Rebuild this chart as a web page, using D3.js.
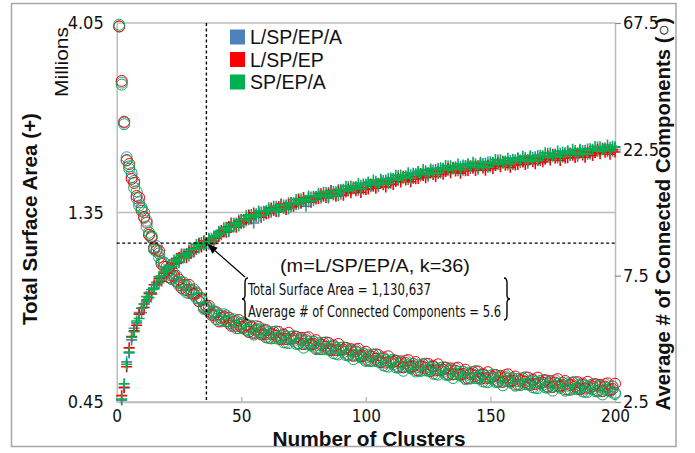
<!DOCTYPE html>
<html><head><meta charset="utf-8">
<script src="https://cdn.jsdelivr.net/npm/d3@7"></script>
<style>
html,body{margin:0;padding:0;background:#fff;}
svg{display:block;}
</style></head><body>
<svg id="chart" width="695" height="453"></svg>
<script>
// ---- data ----
const seriesNames = ["L/SP/EP/A", "L/SP/EP", "SP/EP/A"];
const seriesColors = ["#4F81BD", "#FF0000", "#00B050"];
const clusterTicks = [0, 50, 100, 150, 200];
const areaTicks = [0.45, 1.35, 4.05];          // millions
const componentTicks = [2.5, 7.5, 22.5, 67.5];
const componentsFirstK = 1;
const areaFirstK = 2;

// average # of connected components, k = 1..200
const componentsLSPEPA = [65.5,40.2,28.4,21.0,19.0,17.7,17.1,14.7,14.2,13.6,
12.4,12.1,10.7,10.4,9.6,9.7,8.8,8.5,8.4,7.7,
7.85,7.28,7.42,7.49,6.91,6.88,7.06,6.48,6.65,6.63,
6.34,6.49,6.01,6.06,5.73,5.6,5.49,5.45,5.46,5.14,
5.36,5.04,5.2,5.3,4.95,4.95,5.13,4.75,4.9,4.95,
4.75,4.91,4.6,4.76,4.59,4.84,4.57,4.59,4.65,4.39,
4.59,4.35,4.5,4.62,4.33,4.36,4.51,4.19,4.34,4.41,
4.26,4.41,4.13,4.28,4.14,4.37,4.14,4.16,4.22,4.0,
4.18,3.96,4.1,4.2,3.94,3.96,4.1,3.8,3.94,4.0,
3.86,4.0,3.74,3.88,3.74,3.95,3.74,3.76,3.81,3.61,
3.77,3.57,3.7,3.79,3.55,3.56,3.69,3.42,3.54,3.59,
3.47,3.58,3.37,3.49,3.38,3.58,3.4,3.42,3.48,3.3,
3.46,3.28,3.4,3.49,3.28,3.31,3.43,3.19,3.3,3.36,
3.25,3.37,3.16,3.28,3.18,3.35,3.18,3.2,3.25,3.08,
3.23,3.07,3.18,3.27,3.07,3.09,3.2,2.98,3.09,3.14,
3.05,3.16,2.97,3.08,2.98,3.16,3.0,3.02,3.07,2.91,
3.06,2.9,3.01,3.1,2.91,2.93,3.05,2.83,2.94,3.0,
2.9,3.02,2.83,2.94,2.85,3.02,2.87,2.89,2.95,2.79,
2.94,2.78,2.9,2.97,2.8,2.82,2.94,2.73,2.84,2.89,
2.8,2.91,2.74,2.85,2.75,2.92,2.77,2.8,2.86,2.71];

const componentsLSPEP = [65.5,40.8,28.6,20.5,19.8,17.4,16.8,15.0,14.8,13.2,
12.5,11.9,10.7,10.5,9.5,9.4,9.3,8.3,8.1,8.1,
7.39,7.5,7.5,7.13,7.26,6.74,6.92,6.62,6.92,6.44,
6.4,6.43,6.01,6.12,5.67,5.76,5.77,5.34,5.3,5.46,
5.04,5.2,5.25,5.05,5.2,4.85,5.03,4.85,5.1,4.8,
4.8,4.87,4.6,4.8,4.54,4.7,4.8,4.5,4.51,4.67,
4.37,4.52,4.59,4.44,4.6,4.31,4.47,4.32,4.56,4.32,
4.34,4.41,4.17,4.37,4.14,4.28,4.39,4.12,4.14,4.28,
3.98,4.12,4.18,4.04,4.18,3.92,4.06,3.92,4.14,3.92,
3.94,4.0,3.78,3.96,3.74,3.88,3.97,3.72,3.74,3.87,
3.59,3.72,3.77,3.64,3.76,3.53,3.65,3.52,3.72,3.52,
3.54,3.58,3.4,3.56,3.38,3.51,3.6,3.39,3.41,3.54,
3.29,3.41,3.47,3.36,3.48,3.27,3.4,3.29,3.47,3.29,
3.31,3.37,3.19,3.35,3.18,3.28,3.37,3.17,3.19,3.31,
3.07,3.19,3.24,3.14,3.26,3.06,3.17,3.07,3.24,3.08,
3.11,3.16,3.0,3.14,2.98,3.1,3.18,2.99,3.01,3.12,
2.91,3.02,3.07,2.98,3.09,2.9,3.02,2.92,3.09,2.94,
2.96,3.02,2.86,3.0,2.85,2.96,3.05,2.86,2.89,3.0,
2.79,2.9,2.96,2.86,2.97,2.79,2.91,2.81,2.98,2.83,
2.86,2.92,2.76,2.9,2.75,2.86,2.94,2.77,2.8,2.93];

const componentsSPEPA = [66.5,39.5,28.0,20.4,19.4,18.3,16.1,15.6,13.8,13.4,
13.0,11.5,10.9,10.6,9.4,9.3,9.1,8.4,8.4,7.7,
7.78,7.35,7.64,7.13,7.05,7.09,6.64,6.89,6.45,6.57,
6.66,6.17,6.14,6.18,5.62,5.7,5.66,5.4,5.51,5.14,
5.3,5.1,5.36,5.05,5.05,5.1,4.83,5.05,4.75,4.9,
4.99,4.67,4.69,4.85,4.49,4.65,4.71,4.54,4.7,4.39,
4.5,4.35,4.59,4.35,4.38,4.44,4.2,4.4,4.17,4.32,
4.43,4.15,4.17,4.32,4.01,4.16,4.22,4.08,4.22,3.96,
4.1,3.96,4.18,3.96,3.98,4.04,3.82,4.0,3.78,3.92,
4.02,3.76,3.78,3.92,3.63,3.76,3.82,3.68,3.81,3.57,
3.7,3.57,3.77,3.57,3.58,3.64,3.44,3.6,3.4,3.52,
3.61,3.38,3.4,3.53,3.28,3.41,3.46,3.35,3.48,3.26,
3.39,3.28,3.47,3.29,3.32,3.37,3.2,3.35,3.17,3.29,
3.38,3.17,3.19,3.32,3.08,3.19,3.24,3.14,3.25,3.05,
3.17,3.07,3.24,3.08,3.1,3.15,2.99,3.13,2.97,3.08,
3.17,2.98,3.0,3.11,2.89,3.01,3.06,2.96,3.07,2.88,
3.0,2.9,3.07,2.92,2.94,2.99,2.84,2.98,2.82,2.94,
3.02,2.84,2.86,2.97,2.76,2.87,2.93,2.83,2.95,2.76,
2.88,2.78,2.96,2.8,2.83,2.88,2.74,2.87,2.73,2.83,
2.91,2.75,2.76,2.88,2.67,2.78,2.83,2.74,2.86,2.68];

// total surface area in millions, k = 2..200
const areaLSPEPA = [0.455,0.488,0.568,0.598,0.645,0.69,0.712,0.756,0.755,
0.794,0.805,0.849,0.847,0.871,0.901,0.899,0.934,0.931,0.965,
0.995,0.98,1.0,1.035,1.009,1.04,1.061,1.055,1.086,1.064,
1.095,1.089,1.132,1.111,1.124,1.130637,1.123,1.162,1.145,1.181,
1.211,1.187,1.205,1.24,1.208,1.245,1.269,1.259,1.293,1.264,
1.297,1.286,1.333,1.307,1.27,1.341,1.315,1.354,1.327,1.361,
1.387,1.352,1.365,1.399,1.356,1.39,1.41,1.395,1.429,1.393,
1.427,1.412,1.461,1.431,1.444,1.40,1.434,1.477,1.446,1.481,
1.509,1.469,1.482,1.516,1.469,1.504,1.524,1.506,1.542,1.501,
1.537,1.519,1.57,1.536,1.549,1.57,1.536,1.58,1.545,1.582,
1.611,1.568,1.581,1.618,1.567,1.604,1.625,1.606,1.643,1.6,
1.637,1.618,1.672,1.636,1.649,1.671,1.634,1.681,1.644,1.682,
1.713,1.667,1.681,1.719,1.665,1.704,1.726,1.705,1.745,1.698,
1.736,1.713,1.768,1.727,1.739,1.759,1.719,1.765,1.725,1.763,
1.792,1.742,1.754,1.792,1.734,1.772,1.793,1.769,1.808,1.757,
1.796,1.772,1.829,1.787,1.799,1.82,1.778,1.826,1.784,1.823,
1.854,1.804,1.817,1.857,1.797,1.838,1.86,1.837,1.878,1.826,
1.866,1.842,1.902,1.86,1.872,1.895,1.852,1.902,1.859,1.899,
1.931,1.878,1.89,1.933,1.869,1.911,1.933,1.908,1.95,1.896,
1.938,1.912,1.974,1.928,1.941,1.963,1.919,1.971,1.925,1.967];

const areaLSPEP = [0.467,0.49,0.552,0.616,0.658,0.68,0.702,0.749,0.775,
0.778,0.813,0.844,0.842,0.888,0.888,0.922,0.907,0.95,0.95,
0.965,1.005,1.005,1.005,1.04,1.061,1.045,1.039,1.075,1.091,
1.074,1.1,1.127,1.106,1.146,1.125,1.151,1.127,1.168,1.163,
1.175,1.217,1.211,1.204,1.245,1.27,1.25,1.24,1.28,1.296,
1.272,1.299,1.327,1.301,1.347,1.321,1.348,1.314,1.354,1.34,
1.346,1.386,1.372,1.357,1.398,1.418,1.389,1.374,1.415,1.428,
1.399,1.426,1.453,1.424,1.473,1.443,1.471,1.433,1.475,1.459,
1.464,1.506,1.489,1.472,1.514,1.534,1.501,1.484,1.527,1.539,
1.491,1.534,1.547,1.513,1.564,1.531,1.559,1.517,1.561,1.543,
1.547,1.592,1.573,1.554,1.599,1.62,1.585,1.566,1.611,1.624,
1.588,1.618,1.647,1.611,1.665,1.629,1.659,1.614,1.661,1.641,
1.645,1.692,1.672,1.652,1.699,1.721,1.683,1.663,1.71,1.724,
1.684,1.713,1.742,1.701,1.756,1.716,1.745,1.696,1.742,1.719,
1.722,1.769,1.745,1.722,1.769,1.79,1.748,1.725,1.772,1.784,
1.742,1.772,1.802,1.76,1.817,1.775,1.805,1.754,1.802,1.778,
1.782,1.831,1.808,1.784,1.834,1.856,1.814,1.791,1.841,1.854,
1.811,1.842,1.874,1.831,1.891,1.848,1.88,1.826,1.878,1.852,
1.855,1.906,1.881,1.856,1.907,1.93,1.885,1.861,1.911,1.925,
1.88,1.912,1.945,1.899,1.96,1.915,1.948,1.892,1.944,1.918];

const areaSPEPA = [0.458,0.5,0.56,0.601,0.655,0.676,0.72,0.73,0.775,
0.794,0.829,0.824,0.864,0.867,0.892,0.931,0.911,0.954,0.965,
0.985,0.985,1.025,1.02,1.015,1.056,1.04,1.065,1.049,1.091,
1.095,1.122,1.099,1.134,1.118,1.131,1.163,1.133,1.174,1.181,
1.199,1.193,1.235,1.222,1.215,1.264,1.243,1.271,1.249,1.296,
1.297,1.325,1.294,1.334,1.314,1.328,1.362,1.321,1.36,1.361,
1.374,1.359,1.399,1.378,1.363,1.411,1.382,1.409,1.38,1.428,
1.427,1.455,1.418,1.46,1.437,1.45,1.485,1.44,1.483,1.481,
1.494,1.477,1.519,1.494,1.477,1.527,1.494,1.522,1.489,1.539,
1.544,1.572,1.531,1.575,1.549,1.562,1.598,1.548,1.593,1.59,
1.603,1.584,1.629,1.602,1.583,1.636,1.601,1.63,1.595,1.648,
1.645,1.675,1.631,1.677,1.649,1.662,1.7,1.647,1.694,1.691,
1.704,1.684,1.731,1.702,1.682,1.738,1.7,1.731,1.693,1.75,
1.744,1.773,1.724,1.771,1.739,1.751,1.789,1.731,1.777,1.772,
1.783,1.76,1.807,1.775,1.751,1.807,1.766,1.796,1.754,1.811,
1.805,1.835,1.784,1.832,1.799,1.811,1.85,1.79,1.838,1.832,
1.845,1.822,1.871,1.839,1.816,1.875,1.833,1.864,1.822,1.882,
1.876,1.908,1.856,1.906,1.872,1.885,1.927,1.864,1.915,1.909,
1.921,1.897,1.948,1.914,1.888,1.949,1.904,1.937,1.892,1.954,
1.947,1.979,1.925,1.977,1.941,1.954,1.997,1.931,1.983,1.977];

// highlighted configuration
const highlightK = 36;
const highlightArea = 1.130637;     // millions
const highlightComponents = 5.6;

// ---- drawing ----
const componentSeries = [componentsLSPEPA, componentsLSPEP, componentsSPEPA];
const areaSeries = [areaLSPEPA, areaLSPEP, areaSPEPA];

const svg = d3.select("#chart");
const narrow = "'Liberation Sans Narrow','DejaVu Sans Condensed','Arial Narrow',sans-serif";
const sans = "'Liberation Sans','DejaVu Sans',Arial,sans-serif";
const ink = "#111";
const gridColor = "#bdbdbd";

const plot = {left: 116.7, right: 615, top: 23, bottom: 402};
const x = d3.scaleLinear().domain([0, 200]).range([plot.left, plot.right]);
const yArea = d3.scaleLog().domain([0.45, 4.05]).range([plot.bottom, plot.top]);
const yComp = d3.scaleLog().domain([2.5, 67.5]).range([plot.bottom, plot.top]);

// squeeze or stretch a text node to a given width
function fit(sel, w) {
  const len = sel.node().getComputedTextLength();
  if (Math.abs(len - w) > 1) sel.attr("textLength", w).attr("lengthAdjust", "spacingAndGlyphs");
  return sel;
}

// outer frame
svg.append("rect").attr("x", 11.5).attr("y", 3.5).attr("width", 664.5).attr("height", 443)
  .attr("fill", "#fff").attr("stroke", "#a6a6a6").attr("stroke-width", 1.5);

// horizontal grid lines at the surface-area ticks
svg.append("g").selectAll("line").data(areaTicks).join("line")
  .attr("x1", plot.left).attr("x2", plot.right)
  .attr("y1", d => yArea(d)).attr("y2", d => yArea(d))
  .attr("stroke", gridColor).attr("stroke-width", 1.5);

// left axis (total surface area)
const gLeft = svg.append("g").attr("transform", `translate(${plot.left},0)`)
  .call(d3.axisLeft(yArea).tickValues(areaTicks).tickSize(0).tickPadding(13)
    .tickFormat(d3.format(".2f")));
gLeft.select(".domain").attr("stroke", gridColor).attr("stroke-width", 1.5);
gLeft.selectAll("text").attr("font-family", narrow).attr("font-size", 18).attr("fill", ink);

// right axis (connected components)
const gRight = svg.append("g").attr("transform", `translate(${plot.right},0)`)
  .call(d3.axisRight(yComp).tickValues(componentTicks).tickSizeInner(6).tickSizeOuter(0)
    .tickPadding(2).tickFormat(d => String(d)));
gRight.select(".domain").attr("stroke", gridColor).attr("stroke-width", 1.5);
gRight.selectAll(".tick line").attr("stroke", "#8c8c8c").attr("stroke-width", 1.2);
gRight.selectAll("text").attr("font-family", narrow).attr("font-size", 18).attr("fill", ink);

// bottom axis (number of clusters)
const gBottom = svg.append("g").attr("transform", `translate(0,${plot.bottom})`)
  .call(d3.axisBottom(x).tickValues(clusterTicks).tickSizeInner(-5).tickSizeOuter(0).tickPadding(8));
gBottom.select(".domain").attr("stroke", gridColor).attr("stroke-width", 1.5);
gBottom.selectAll(".tick line").attr("stroke", gridColor).attr("stroke-width", 1.5);
gBottom.selectAll("text").attr("font-family", narrow).attr("font-size", 17).attr("fill", ink);

// axis titles
fit(svg.append("text").attr("transform", "translate(37,219) rotate(-90)")
  .attr("text-anchor", "middle").attr("font-family", sans).attr("font-weight", "bold")
  .attr("font-size", 21).attr("fill", ink).text("Total Surface Area (+)"), 212);
fit(svg.append("text").attr("transform", "translate(68,62) rotate(-90)")
  .attr("text-anchor", "middle").attr("font-family", sans)
  .attr("font-size", 19).attr("fill", ink).text("Millions"), 70);
fit(svg.append("text").attr("transform", "translate(670,214) rotate(-90)")
  .attr("text-anchor", "middle").attr("font-family", sans).attr("font-weight", "bold")
  .attr("font-size", 20).attr("fill", ink).text("Average # of Connected Components (○)"), 393);
fit(svg.append("text").attr("x", 369).attr("y", 446)
  .attr("text-anchor", "middle").attr("font-family", sans).attr("font-weight", "bold")
  .attr("font-size", 20).attr("fill", ink).text("Number of Clusters"), 193);

// markers: circles = connected components (right axis), plus = surface area (left axis)
const marks = svg.append("g");
componentSeries.forEach((vals, i) => {
  marks.append("g").selectAll("circle").data(vals).join("circle")
    .attr("cx", (d, j) => x(j + componentsFirstK))
    .attr("cy", d => yComp(d))
    .attr("r", 5.5)
    .attr("fill", "none").attr("stroke", seriesColors[i]).attr("stroke-width", 1);
});
const plusPath = "M-5.5,0H5.5M0,-5.5V5.5";
areaSeries.forEach((vals, i) => {
  marks.append("g").selectAll("path").data(vals).join("path")
    .attr("d", plusPath)
    .attr("transform", (d, j) => `translate(${x(j + areaFirstK)},${yArea(d)})`)
    .attr("fill", "none").attr("stroke", seriesColors[i]).attr("stroke-width", 1.6);
});

// legend
const legend = svg.append("g");
seriesNames.forEach((name, i) => {
  const y0 = 29.5 + i * 22.5;
  legend.append("rect").attr("x", 230).attr("y", y0).attr("width", 15).attr("height", 15)
    .attr("fill", seriesColors[i]);
  legend.append("text").attr("x", 250).attr("y", y0 + 14.5)
    .attr("font-family", sans).attr("font-size", 19.5).attr("fill", ink).text(name);
});

// highlight: dotted guides through the selected configuration
const hx = x(highlightK), hy = yArea(highlightArea);
const guides = svg.append("g").attr("stroke", "#000").attr("stroke-width", 1.4)
  .attr("stroke-dasharray", "3,2.5");
guides.append("line").attr("x1", hx).attr("x2", hx).attr("y1", plot.top).attr("y2", plot.bottom);
guides.append("line").attr("x1", plot.left).attr("x2", plot.right).attr("y1", hy).attr("y2", hy);

// arrow pointing at the selected point
const ax0 = 245, ay0 = 277;
const ang = Math.atan2(hy - ay0, hx - ax0);
const tipX = hx - Math.cos(ang) * 1.5, tipY = hy - Math.sin(ang) * 1.5;
const headLen = 10, headW = 4;
const bx = tipX - Math.cos(ang) * headLen, by = tipY - Math.sin(ang) * headLen;
svg.append("line").attr("x1", ax0).attr("y1", ay0).attr("x2", bx).attr("y2", by)
  .attr("stroke", "#000").attr("stroke-width", 1.2);
svg.append("path")
  .attr("d", `M${tipX},${tipY}L${bx - Math.sin(ang) * headW},${by + Math.cos(ang) * headW}L${bx + Math.sin(ang) * headW},${by - Math.cos(ang) * headW}Z`)
  .attr("fill", "#000");

// annotation text
fit(svg.append("text").attr("x", 375).attr("y", 272).attr("text-anchor", "middle")
  .attr("font-family", sans).attr("font-size", 19).attr("fill", ink)
  .text(`(m=${seriesNames[0]}, k=${highlightK})`), 190);
fit(svg.append("text").attr("x", 248).attr("y", 295)
  .attr("font-family", narrow).attr("font-size", 16).attr("fill", ink)
  .text(`Total Surface Area = ${d3.format(",")(Math.round(highlightArea * 1e6))}`), 183);
fit(svg.append("text").attr("x", 248).attr("y", 317)
  .attr("font-family", narrow).attr("font-size", 16).attr("fill", ink)
  .text(`Average # of Connected Components = ${highlightComponents}`), 253);

// curly braces around the two annotation lines
function brace(xTip, xArm, y1, y2) {
  const ym = (y1 + y2) / 2, xm = (xTip + xArm) / 2;
  return `M${xArm},${y1}Q${xm},${y1} ${xm},${y1 + 5}L${xm},${ym - 4}Q${xm},${ym} ${xTip},${ym}` +
         `Q${xm},${ym} ${xm},${ym + 4}L${xm},${y2 - 5}Q${xm},${y2} ${xArm},${y2}`;
}
svg.append("path").attr("d", brace(242, 248, 278, 320))
  .attr("fill", "none").attr("stroke", "#000").attr("stroke-width", 1.4);
svg.append("path").attr("d", brace(510, 504, 278, 320))
  .attr("fill", "none").attr("stroke", "#000").attr("stroke-width", 1.4);
</script>
</body></html>
